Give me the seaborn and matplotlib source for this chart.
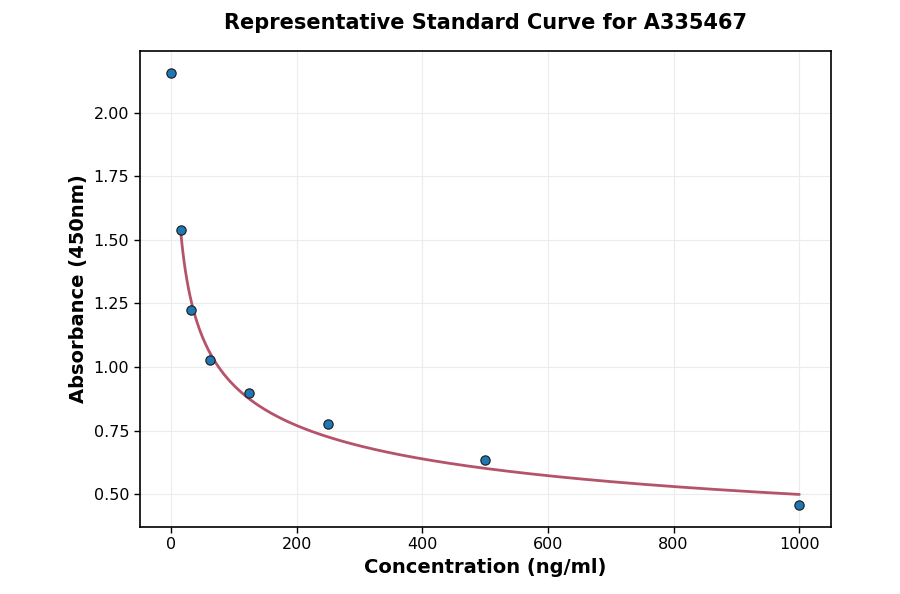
import numpy as np
import pandas as pd
import matplotlib
matplotlib.use("Agg")
import matplotlib.pyplot as plt
import seaborn as sns

# standard points
concentration = [0, 15.625, 31.25, 62.5, 125, 250, 500, 1000]
absorbance = [2.157, 1.537, 1.223, 1.026, 0.900, 0.775, 0.636, 0.457]

df = pd.DataFrame({"Concentration": concentration, "Absorbance": absorbance})

# power-law fit on the non-zero standards (log-log)
fit_df = df[df["Concentration"] > 0]
slope, intercept = np.polyfit(np.log(fit_df["Concentration"]), np.log(fit_df["Absorbance"]), 1)
x_fit = np.linspace(fit_df["Concentration"].min(), fit_df["Concentration"].max(), 400)
curve_df = pd.DataFrame({"Concentration": x_fit,
                         "Absorbance": np.exp(intercept) * x_fit ** slope})

sns.set_style("white")
plt.rcParams["font.family"] = ["DejaVu Sans"]
plt.rcParams["text.color"] = "black"
plt.rcParams["axes.labelcolor"] = "black"

fig, ax = plt.subplots(figsize=(9, 5.94), dpi=100)

sns.lineplot(data=curve_df, x="Concentration", y="Absorbance", ax=ax,
             color="#b5536b", linewidth=2, zorder=2)
sns.scatterplot(data=df, x="Concentration", y="Absorbance", ax=ax,
                color="#1f77b4", edgecolor="#1a1a1a", linewidth=0.8, s=45, zorder=3)

ax.grid(True, color="#ececec", linewidth=0.8)
ax.set_axisbelow(True)
for sp in ax.spines.values():
    sp.set_color("black")
    sp.set_linewidth(1.2)
ax.tick_params(axis="both", direction="out", length=4, width=1, labelsize=11.5,
               colors="black", left=True, bottom=True)

ax.set_yticks([0.5, 0.75, 1.0, 1.25, 1.5, 1.75, 2.0])
ax.set_xlabel("Concentration (ng/ml)", fontsize=14, fontweight="bold", color="black")
ax.set_ylabel("Absorbance (450nm)", fontsize=14, fontweight="bold", color="black")
ax.set_title("Representative Standard Curve for A335467", fontsize=15, fontweight="bold",
             pad=16, color="black")

fig.subplots_adjust(left=0.155, right=0.923, top=0.914, bottom=0.113)
fig.savefig("out.png", dpi=100)
